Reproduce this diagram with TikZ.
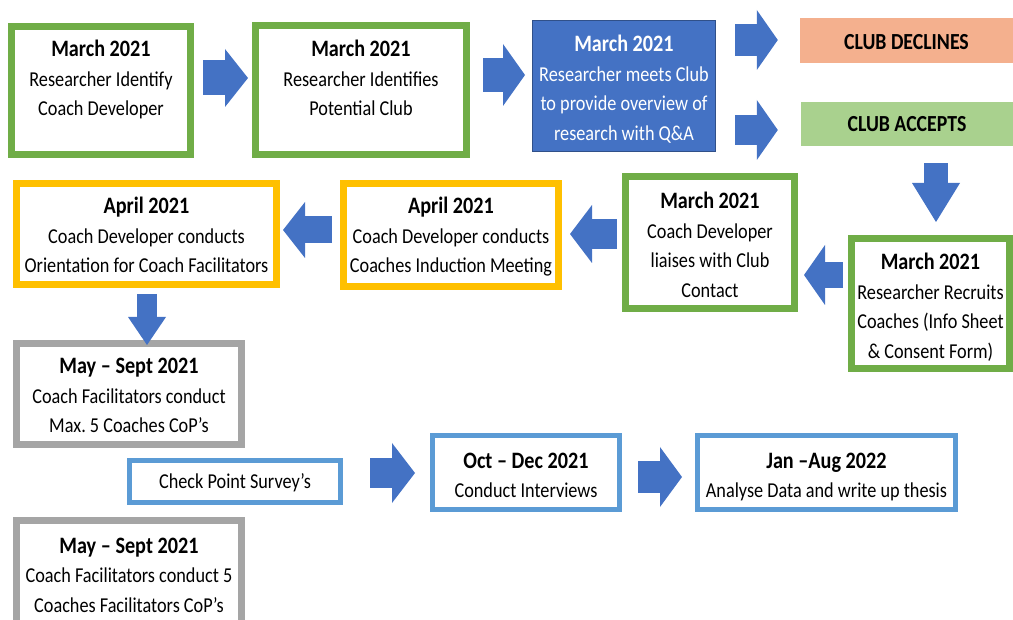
\documentclass[tikz,border=0pt]{standalone}
\usepackage{fontspec}
\setmainfont{Carlito}[FakeStretch=0.86]
\usetikzlibrary{arrows.meta}

\definecolor{stepgreen}{HTML}{70AD47}
\definecolor{stepyellow}{HTML}{FFC000}
\definecolor{stepgrey}{HTML}{A5A5A5}
\definecolor{steplight}{HTML}{5B9BD5}
\definecolor{stepblue}{HTML}{4472C4}
\definecolor{declinefill}{HTML}{F4B08E}
\definecolor{acceptfill}{HTML}{A9D18E}

\newcommand{\datehead}[1]{{\fontsize{23.5}{29.5}\selectfont\bfseries #1}}
\frenchspacing

\begin{document}
\begin{tikzpicture}[x=1pt, y=-1pt,
	font=\fontsize{21.2}{29.5}\selectfont,
	box/.style={draw=#1, line width=7pt, fill=white, anchor=base, inner sep=0pt, align=flush center},
	thinbox/.style={draw=#1, line width=5pt, fill=white, anchor=base, inner sep=0pt, align=flush center},
	banner/.style={fill=#1, anchor=base, inner sep=0pt, align=flush center, font=\fontsize{23}{29.5}\selectfont\bfseries},
	dims/.style n args={3}{text width=#1, text height=#2, text depth=#3},
	barrow/.style args={#1/#2/#3}{draw=stepblue, line width=#1, -{Triangle[width=#2, length=#3, line width=0pt]}}]
	
	\useasboundingbox (0,0) rectangle (1013,620);
	
	% TOP ROW
	
	\node [box=stepgreen, dims={179pt}{30.5pt}{97.5pt}] at (101,57) (idcoach) {\datehead{March 2021}\\Researcher Identify\\Coach Developer};
	\node [box=stepgreen, dims={211pt}{31.5pt}{97.5pt}] at (361,57) (idclub) {\datehead{March 2021}\\Researcher Identifies\\Potential Club};
	\node [fill=stepblue, draw=stepblue!70!black, line width=1pt, text=white, anchor=base, inner sep=0pt, align=flush center, dims={183pt}{31.5pt}{99.5pt}] at (624,52) (meet) {\datehead{March 2021}\\Researcher meets Club\\to provide overview of\\research with Q\&A};
	
	\node [banner=declinefill, dims={213pt}{32pt}{13pt}] at (906.5,50) (declines) {CLUB DECLINES};
	\node [banner=acceptfill, dims={212pt}{30pt}{14pt}] at (907,132) (accepts) {CLUB ACCEPTS};
	
	% MIDDLE ROW
	
	\node [box=stepyellow, dims={260pt}{30.5pt}{70.5pt}] at (146.5,214) (orient) {\datehead{April 2021}\\Coach Developer conducts\\Orientation for Coach Facilitators};
	\node [box=stepyellow, dims={215pt}{30.5pt}{72.5pt}] at (451,214) (induct) {\datehead{April 2021}\\Coach Developer conducts\\Coaches Induction Meeting};
	\node [box=stepgreen, dims={169pt}{32.5pt}{99.5pt}] at (710,209) (liaise) {\datehead{March 2021}\\Coach Developer\\liaises with Club\\Contact};
	\node [box=stepgreen, dims={158pt}{31.5pt}{98.5pt}] at (930.5,270) (recruit) {\datehead{March 2021}\\Researcher Recruits\\Coaches (Info Sheet\\\& Consent Form)};
	
	% BOTTOM ROWS
	
	\node [box=stepgrey, dims={225pt}{30.5pt}{70.5pt}] at (129,374) (cops) {\datehead{May -- Sept 2021}\\Coach Facilitators conduct\\Max. 5 Coaches CoP’s};
	\node [thinbox=steplight, dims={211pt}{28.5pt}{13.5pt}] at (235,489) (survey) {Check Point Survey’s};
	\node [thinbox=steplight, dims={187pt}{32.5pt}{41.5pt}] at (526,468) (interview) {\datehead{Oct -- Dec 2021}\\Conduct Interviews};
	\node [thinbox=steplight, dims={258pt}{32.5pt}{41.5pt}] at (826.5,468) (thesis) {\datehead{Jan --Aug 2022}\\Analyse Data and write up thesis};
	\node [box=stepgrey, dims={225pt}{32.5pt}{87pt}] at (129,553) (faccops) {\datehead{May -- Sept 2021}\\Coach Facilitators conduct 5\\Coaches Facilitators CoP’s};
	
	% Block arrows
	\draw [barrow=35pt/58pt/23pt, shorten <=9pt, shorten >=4pt] ([yshift=12.5pt]idcoach.east) -- ([yshift=12pt]idclub.west);
	\draw [barrow=34pt/62pt/22pt, shorten <=13pt, shorten >=7pt] ([yshift=15pt]idclub.east) -- ([yshift=11pt]meet.west);
	\draw [barrow=32pt/60pt/21pt, shorten <=19pt, shorten >=22pt] ([yshift=46pt]meet.east) -- ([yshift=0.5pt]declines.west);
	\draw [barrow=30pt/60pt/21pt, shorten <=19pt, shorten >=23pt] ([yshift=-44pt]meet.east) -- ([yshift=-6pt]accepts.west);
	\draw [barrow=24pt/48pt/39pt, shorten <=17pt, shorten >=13pt] ([xshift=29pt]accepts.south) -- ([xshift=5.5pt]recruit.north);
	\draw [barrow=26pt/60pt/21pt, shorten <=5pt, shorten >=6pt] ([yshift=28.5pt]recruit.west) -- ([yshift=-32.5pt]liaise.east);
	\draw [barrow=30pt/58pt/22pt, shorten <=5pt, shorten >=8pt] ([yshift=8.5pt]liaise.west) -- ([yshift=1pt]induct.east);
	\draw [barrow=27pt/56pt/22pt, shorten <=8pt, shorten >=3pt] ([yshift=5pt]induct.west) -- ([yshift=4pt]orient.east);
	\draw [barrow=20pt/38pt/28pt, shorten <=6pt, shorten >=-5pt] ([xshift=0.5pt]orient.south) -- ([xshift=18pt]cops.north);
	\draw [barrow=29pt/60pt/23pt, shorten <=27pt, shorten >=15pt] ([yshift=8.5pt]survey.east) -- ([yshift=-0.5pt]interview.west);
	\draw [barrow=32pt/60pt/22pt, shorten <=16pt, shorten >=13pt] ([yshift=-4.5pt]interview.east) -- ([yshift=-4.5pt]thesis.west);
	
\end{tikzpicture}
\end{document}
